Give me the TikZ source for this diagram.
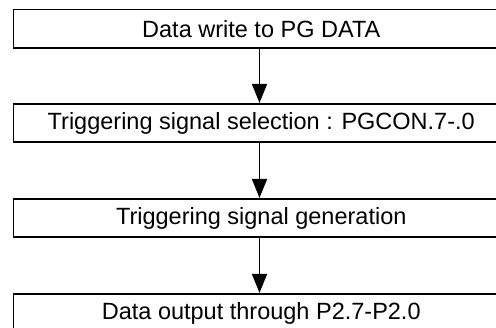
\documentclass[tikz,border=0pt]{standalone}
\usepackage{fontspec}
\setmainfont{Liberation Sans}
\usetikzlibrary{arrows.meta}
\begin{document}
\begin{tikzpicture}[x=1pt,y=-1pt,
  stepbox/.style={draw,line width=1.6pt,minimum width=495.5pt,minimum height=38.5pt,inner sep=0pt,
    font=\fontsize{23.5}{27}\selectfont},
  flow/.style={line width=1.5pt,-{Triangle[length=19pt,width=15pt]}}]
\useasboundingbox (0,0) rectangle (496,328);
\begin{scope}
\clip (0,0) rectangle (496,328);
\node[stepbox] (a) at (261.25,28.75) {Data write to PG DATA};
\node[stepbox] (b) at (261.25,123) {Triggering signal selection : PGCON.7-.0};
\node[stepbox] (c) at (261.25,218) {Triggering signal generation};
\node[stepbox] (d) at (261.25,313) {Data output through P2.7-P2.0};
\draw[flow] (a.south -| 259.5,0) -- (b.north -| 259.5,0);
\draw[flow] (b.south -| 259.5,0) -- (c.north -| 259.5,0);
\draw[flow] (c.south -| 259.5,0) -- (d.north -| 259.5,0);
\end{scope}
\end{tikzpicture}
\end{document}
